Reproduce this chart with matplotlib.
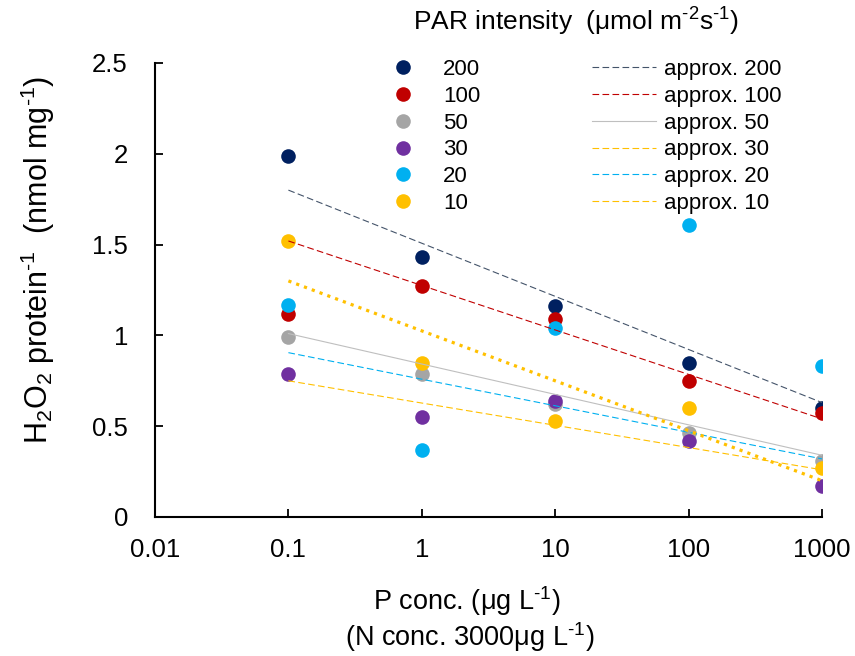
import matplotlib
matplotlib.use('Agg')
import matplotlib.pyplot as plt
from matplotlib.lines import Line2D

plt.rcParams['font.family'] = ['Liberation Sans', 'DejaVu Sans']
plt.rcParams['mathtext.default'] = 'regular'

# P concentration (ug/L)
p_conc = [0.1, 1, 10, 100, 1000]

# PAR intensity series
par_labels = ['200', '100', '50', '30', '20', '10']
h2o2_200 = [1.99, 1.43, 1.16, 0.85, 0.60]
h2o2_100 = [1.12, 1.27, 1.09, 0.75, 0.57]
h2o2_50 = [0.99, 0.79, 0.62, 0.46, 0.31]
h2o2_30 = [0.79, 0.55, 0.64, 0.42, 0.17]
h2o2_20 = [1.17, 0.37, 1.04, 1.61, 0.83]
h2o2_10 = [1.52, 0.85, 0.53, 0.60, 0.27]

# approximation lines, value at P=0.1 and at P=1000
approx_x = [0.1, 1000]
approx_200 = [1.80, 0.63]
approx_100 = [1.52, 0.54]
approx_50 = [1.01, 0.34]
approx_30 = [0.75, 0.26]
approx_20 = [0.905, 0.32]
approx_10 = [1.30, 0.20]

dot_colors = ['#002060', '#C00000', '#A5A5A5', '#7030A0', '#00B0F0', '#FFC000']
line_colors = ['#44546A', '#C00000', '#BFBFBF', '#FFC000', '#00B0F0', '#FFC000']
line_styles = [(0, (6, 3)), (0, (6, 3)), '-', (0, (6, 3)), (0, (6, 3)), (0, (6, 3))]

series = [h2o2_200, h2o2_100, h2o2_50, h2o2_30, h2o2_20, h2o2_10]
approx = [approx_200, approx_100, approx_50, approx_30, approx_20, approx_10]

HY = '\u2010'  # short hyphen for the superscripts

fig = plt.figure(figsize=(8.55, 6.56), dpi=100)
ax = fig.add_axes([155 / 855, 1 - 517 / 656, (822 - 155) / 855, (517 - 63) / 656])

for ys, c in zip(series, dot_colors):
    ax.plot(p_conc, ys, 'o', color=c, markersize=10.5, markeredgewidth=0, zorder=3)

# trend lines
for ys, c, ls in zip(approx[:5], line_colors[:5], line_styles[:5]):
    ax.plot(approx_x, ys, color=c, linestyle=ls, lw=0.8, zorder=4)
ax.plot(approx_x, approx_10, color='#FFC000', linestyle=(0, (1, 1.6)), lw=2.3, zorder=4)

ax.set_xscale('log')
ax.set_xlim(0.01, 1000)
ax.set_ylim(0, 2.5)
ax.set_xticks([0.01, 0.1, 1, 10, 100, 1000])
ax.set_xticklabels(['0.01', '0.1', '1', '10', '100', '1000'])
ax.minorticks_off()
ax.set_yticks([0, 0.5, 1, 1.5, 2, 2.5])
ax.set_yticklabels(['0', '0.5', '1', '1.5', '2', '2.5'])
ax.tick_params(axis='both', direction='in', length=6, width=1.3, labelsize=18.5)
ax.tick_params(axis='x', pad=15)
ax.tick_params(axis='y', pad=19.5)
for s in ['top', 'right']:
    ax.spines[s].set_visible(False)
for s in ['left', 'bottom']:
    ax.spines[s].set_linewidth(1.5)

fig.text(38 / 855, 1 - 260 / 656, 'H$_2$O$_2$ protein$^{' + HY + '1}$  (nmol mg$^{' + HY + '1}$)',
         rotation=90, ha='center', va='center', fontsize=22)
fig.text(467 / 855, 1 - 601 / 656, 'P conc. (μg L$^{' + HY + '1}$)', ha='center', va='center',
         fontsize=19.5)
fig.text(470 / 855, 1 - 637 / 656, '(N conc. 3000μg L$^{' + HY + '1}$)', ha='center', va='center',
         fontsize=19.5)
fig.text(413 / 855, 1 - 22 / 656, 'PAR intensity  (μmol m$^{' + HY + '2}$s$^{' + HY + '1}$)',
         ha='left', va='center', fontsize=19)

handles = []
labels = []
for c, lab in zip(dot_colors, par_labels):
    handles.append(Line2D([], [], marker='o', color=c, linestyle='none', markersize=10.5,
                          markeredgewidth=0))
    labels.append(lab)
for c, ls, lab in zip(line_colors, line_styles, par_labels):
    handles.append(Line2D([], [], color=c, linestyle=ls, lw=0.8))
    labels.append('approx. ' + lab)

fig.legend(handles, labels, ncol=2, loc='upper left', bbox_to_anchor=(371 / 855, 1 - 59 / 656),
           frameon=False, fontsize=16, handlelength=2.9, handletextpad=0.35, columnspacing=5.0,
           labelspacing=0.26, borderpad=0, borderaxespad=0)

fig.savefig('out.png', dpi=100)
